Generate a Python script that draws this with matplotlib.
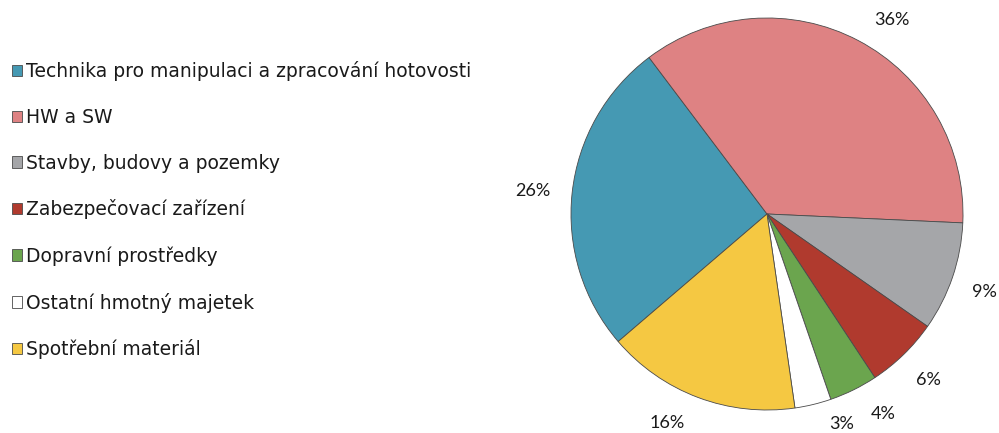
import matplotlib
matplotlib.use("Agg")
import matplotlib.pyplot as plt
from matplotlib.font_manager import FontProperties
import numpy as np

plt.rcParams["font.family"] = ["DejaVu Sans"]

categories = [
    "Technika pro manipulaci a zpracování hotovosti",
    "HW a SW",
    "Stavby, budovy a pozemky",
    "Zabezpečovací zařízení",
    "Dopravní prostředky",
    "Ostatní hmotný majetek",
    "Spotřební materiál",
]
values = [26, 36, 9, 6, 4, 3, 16]
pct_labels = ["26%", "36%", "9%", "6%", "4%", "3%", "16%"]
colors = ["#4599B3", "#DE8283", "#A5A6A9", "#B03A2E", "#6BA54E", "#FFFFFF", "#F5C842"]

# label placement tweaks (degrees offset from wedge mid-angle, radius factor)
label_angle_offsets = [0.5, -5, -1, 0, 4, 6, -5]
label_radii = [1.2, 1.18, 1.18, 1.18, 1.18, 1.14, 1.18]

fig = plt.figure(figsize=(9.99, 4.33), dpi=100)
ax = fig.add_axes([571 / 999, (433 - 410) / 433, 392 / 999, 392 / 433])

total = sum(values)
start = 90 + 360 * (values[0] / total) + 37  # Technika/HW boundary at ~127 deg
wedges, _ = ax.pie(values, colors=colors, startangle=start, counterclock=False,
                   wedgeprops=dict(edgecolor="#4a4a4a", linewidth=0.6))
ax.set_xlim(-1, 1)
ax.set_ylim(-1, 1)

for w, lab, off, rr in zip(wedges, pct_labels, label_angle_offsets, label_radii):
    mid = np.deg2rad((w.theta1 + w.theta2) / 2 + off)
    ax.text(rr * np.cos(mid), rr * np.sin(mid), lab,
            ha="center", va="center", fontsize=13, family=["Lato", "DejaVu Sans"],
            color="#1a1a1a", clip_on=False)

leg = fig.legend(wedges, categories, loc="upper left",
                 bbox_to_anchor=(12 / 999, 1 - 61 / 433),
                 frameon=False, prop=FontProperties(family="DejaVu Sans", size=13.5),
                 handlelength=0.55, handleheight=0.55, handletextpad=0.2,
                 labelspacing=1.43, borderpad=0, borderaxespad=0)
for t in leg.get_texts():
    t.set_color("#1a1a1a")

fig.savefig("out.png", dpi=100)
